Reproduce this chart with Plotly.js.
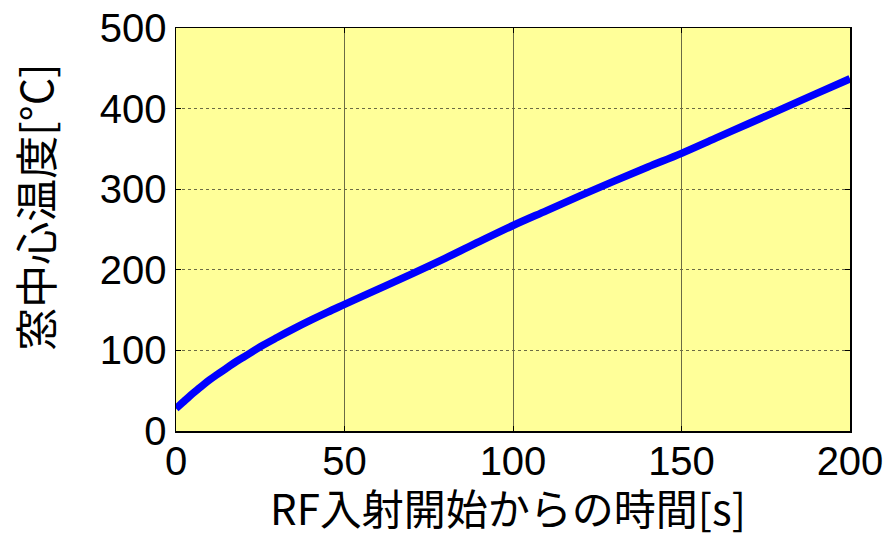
<!DOCTYPE html>
<html>
<head>
<meta charset="utf-8">
<script src="https://cdn.plot.ly/plotly-3.0.1.min.js"></script>
<style>
  html, body { margin: 0; padding: 0; background: #ffffff; }
  #chart { width: 895px; height: 536px; }
</style>
</head>
<body>
<div id="chart"></div>
<script>
// Window-centre temperature after RF injection starts
const timeSec = [0, 2, 4, 6, 8, 10, 12, 15, 18, 20, 25, 30, 35, 40, 45, 50, 60, 70, 80, 90, 100, 110, 120, 130, 140, 150, 160, 170, 180, 190, 200];
const tempC   = [28, 35.5, 43, 50, 57, 63.5, 69.5, 78, 86.5, 91.5, 104.5, 116, 127, 137.5, 147.5, 157, 176, 195, 214.5, 235, 255, 273.5, 292, 310, 327.5, 344.5, 363, 381.5, 400, 418.5, 437];

const xTicks = [0, 50, 100, 150, 200];
const yTicks = [0, 100, 200, 300, 400, 500];

const xTitle = 'RF入射開始からの時間[s]';
const yTitle = '窓中心温度[°C]';

const tickFont = { family: '"Liberation Sans", Arial, sans-serif', size: 40, color: '#000000' };
const titleFont = { family: '"Noto Sans CJK JP", "Noto Sans", sans-serif', size: 43, color: '#000000' };
const xTitleFont = Object.assign({}, titleFont, { size: 42 });

const trace = {
  x: timeSec,
  y: tempC,
  type: 'scatter',
  mode: 'lines',
  line: { color: '#0000ff', width: 7.5, shape: 'spline', smoothing: 1 },
  hoverinfo: 'x+y'
};

const axisCommon = {
  ticks: 'inside',
  ticklen: 5,
  tickcolor: '#000000',
  showline: true,
  linecolor: '#000000',
  linewidth: 1.5,
  mirror: 'ticks',
  showgrid: true,
  gridcolor: '#6b6b45',
  gridwidth: 1,
  zeroline: false,
  tickfont: tickFont
};

const layout = {
  width: 895,
  height: 536,
  margin: { l: 176, r: 45, t: 28, b: 105 },
  paper_bgcolor: '#ffffff',
  plot_bgcolor: '#ffff99',
  showlegend: false,
  xaxis: Object.assign({}, axisCommon, {
    range: [0, 200],
    tickvals: xTicks,
    ticktext: xTicks.map(String),
    ticklabelstandoff: -6
  }),
  yaxis: Object.assign({}, axisCommon, {
    range: [0, 500],
    tickvals: yTicks,
    ticktext: yTicks.map(String),
    griddash: 'dot'
  }),
  annotations: [
    {
      text: xTitle, font: xTitleFont, showarrow: false,
      xref: 'paper', yref: 'paper', x: 0.493, y: 0, yshift: -75,
      xanchor: 'center', yanchor: 'middle'
    },
    {
      text: yTitle, font: titleFont, showarrow: false, textangle: -90,
      xref: 'paper', yref: 'paper', x: -0.21, y: 0.555,
      xanchor: 'center', yanchor: 'middle'
    }
  ]
};

Plotly.newPlot('chart', [trace], layout, { staticPlot: true, displayModeBar: false });
</script>
</body>
</html>
